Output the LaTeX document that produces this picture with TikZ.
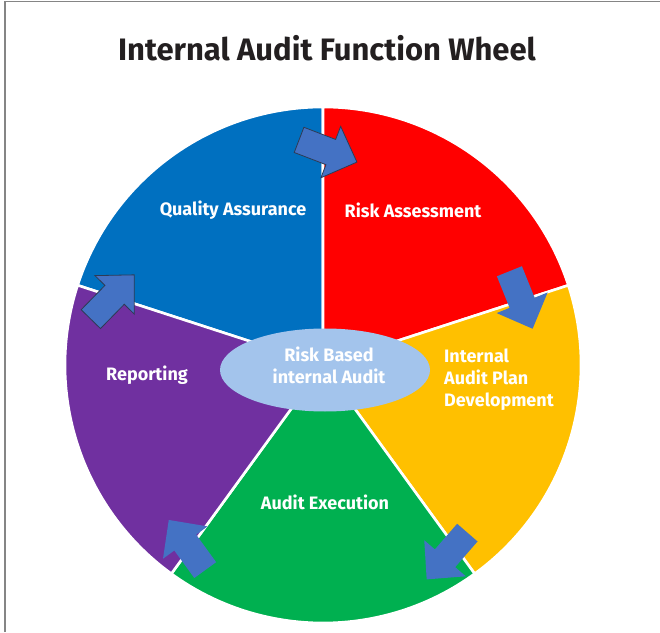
\documentclass[tikz,border=0pt]{standalone}
\usepackage{fontspec}
\setmainfont{Fira Sans}
\usetikzlibrary{shapes.geometric}
\definecolor{qablue}{HTML}{0070C0}
\definecolor{rared}{HTML}{FF0000}
\definecolor{plyellow}{HTML}{FFC000}
\definecolor{exgreen}{HTML}{00B050}
\definecolor{reppurple}{HTML}{7030A0}
\definecolor{arrowblue}{HTML}{4472C4}
\definecolor{arrowedge}{HTML}{2E3B55}
\definecolor{hubblue}{HTML}{A3C4EC}
\definecolor{titleink}{HTML}{231F20}
\definecolor{framegray}{HTML}{858585}
\tikzset{
  sector/.style={draw=white,line width=2.6pt,line join=miter},
  blockarrow/.pic={\path[pic actions] (-31,-13.5) -- (3,-13.5) -- (3,-27.5) -- (31,0) -- (3,27.5) -- (3,13.5) -- (-31,13.5) -- cycle;},
  barrow/.style={fill=arrowblue},
  barrowedged/.style={fill=arrowblue,draw=arrowedge,line width=0.8pt,line join=miter},
  seglabel/.style={text=white,font=\bfseries\fontsize{18}{22}\selectfont,inner sep=0pt}
}
\begin{document}
\begin{tikzpicture}[x=1pt,y=1pt]
\useasboundingbox (0,0) rectangle (660,632);
\draw[framegray,line width=1.5pt] (5,0) -- (5,630.5) -- (660,630.5);
\node[anchor=base,text=titleink,font=\bfseries\fontsize{31}{36}\selectfont,inner sep=0pt] (title) at (327,571) {Internal Audit Function Wheel};
\coordinate (C) at (323,267);
\def\R{258}
\filldraw[sector,fill=qablue] (C) -- ++(90:\R) arc[start angle=90,end angle=162,radius=\R] -- cycle;
\filldraw[sector,fill=rared] (C) -- ++(18:\R) arc[start angle=18,end angle=90,radius=\R] -- cycle;
\filldraw[sector,fill=plyellow] (C) -- ++(-54:\R) arc[start angle=-54,end angle=18,radius=\R] -- cycle;
\filldraw[sector,fill=exgreen] (C) -- ++(-126:\R) arc[start angle=-126,end angle=-54,radius=\R] -- cycle;
\filldraw[sector,fill=reppurple] (C) -- ++(162:\R) arc[start angle=162,end angle=234,radius=\R] -- cycle;
\node[ellipse,fill=hubblue,minimum width=210,minimum height=83,inner sep=0pt] (hub) at (325,262) {};
\node[seglabel,align=center] (hubtext) at (329,267) {Risk Based\\internal Audit};
\node[seglabel] (qa) at (233,422) {Quality Assurance};
\node[seglabel] (ra) at (413,422) {Risk Assessment};
\node[seglabel,align=left,anchor=west] (iapd) at (444,252) {Internal\\Audit Plan\\Development};
\node[seglabel] (ae) at (325,130) {Audit Execution};
\node[seglabel] (rep) at (147,257) {Reporting};
\pic[barrowedged,rotate=-21] at (328,481) {blockarrow};
\pic[barrow,rotate=-68] at (521,332) {blockarrow};
\pic[barrow,rotate=-131] at (447,76) {blockarrow};
\pic[barrow,rotate=126] at (187,87) {blockarrow};
\pic[barrowedged,rotate=45.6] at (112.5,335) {blockarrow};
\end{tikzpicture}
\end{document}
